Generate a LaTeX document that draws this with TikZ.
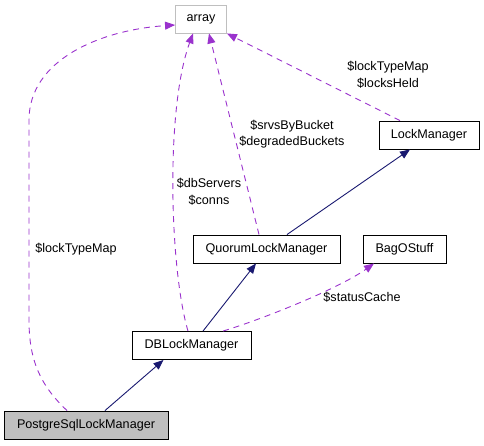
\documentclass[tikz,border=0pt]{standalone}
\usepackage{fontspec}
\setmainfont{Liberation Sans}
\usepackage{xcolor}
\usepackage{tikz}
\usetikzlibrary{arrows.meta, positioning}

\definecolor{edgeblue}{HTML}{191970}
\definecolor{edgepurple}{HTML}{9A32CD}
\definecolor{boxgray}{HTML}{BFBFBF}

\begin{document}
\begin{tikzpicture}[
        x=1pt, y=-1pt,
        font=\fontsize{12.6}{16.5}\selectfont,
        classbox/.style={draw, line width=0.9pt, minimum height=28pt, inner sep=0pt, fill=white},
        nullbox/.style={draw=boxgray, line width=0.9pt, minimum height=28pt, inner sep=0pt},
        inherit/.style={edgeblue, line width=0.9pt, -{Triangle[length=10pt, width=8pt]}},
        member/.style={edgepurple, line width=0.9pt, dash pattern=on 6pt off 5pt, -{Triangle[length=10pt, width=8pt]}},
        lbl/.style={align=center, inner sep=0pt}
    ]
        \useasboundingbox (0,0) rectangle (484,445);

        % Classes
        \node (array) [nullbox, minimum width=51pt] at (201,19) {array};
        \node (lock) [classbox, minimum width=100pt] at (429,135) {LockManager};
        \node (quorum) [classbox, minimum width=147pt] at (266.5,249) {QuorumLockManager};
        \node (bag) [classbox, minimum width=83pt] at (404.5,249) {BagOStuff};
        \node (dblock) [classbox, minimum width=119pt] at (191.5,345.5) {DBLockManager};
        \node (pgsql) [classbox, fill=boxgray, minimum width=164pt] at (86,425) {PostgreSqlLockManager};

        % Inheritance
        \draw [inherit] ([xshift=19pt]pgsql.north) -- ([xshift=-28pt]dblock.south);
        \draw [inherit] ([xshift=11.5pt]dblock.north) -- ([xshift=-10.5pt]quorum.south);
        \draw [inherit] ([xshift=20.5pt]quorum.north) -- ([xshift=-19pt]lock.south);

        % Members
        \draw [member] ([xshift=-19pt]pgsql.north) .. controls (40,385) and (29,360) .. (29,320)
            -- (29,120) .. controls (29,60) and (100,30) .. ([yshift=-6pt]array.west);
        \draw [member] ([xshift=-3.5pt]dblock.north) .. controls (170,270) and (165,110) .. ([xshift=-8pt]array.south);
        \draw [member] ([xshift=-7.5pt]quorum.north) -- ([xshift=8pt]array.south);
        \draw [member] ([xshift=-29pt]lock.north) -- (array.south east);
        \draw [member] ([xshift=31.5pt]dblock.north) .. controls +(40,-12) and +(-35,25) .. ([xshift=-30.5pt]bag.south);

        % Member labels
        \node (l1) [lbl] at (76,249) {\$lockTypeMap};
        \node (l2) [lbl] at (209,192) {\$dbServers\\\$conns};
        \node (l3) [lbl] at (292,134) {\$srvsByBucket\\\$degradedBuckets};
        \node (l4) [lbl] at (388,75) {\$lockTypeMap\\\$locksHeld};
        \node (l5) [lbl] at (362,297) {\$statusCache};
    \end{tikzpicture}
\end{document}
